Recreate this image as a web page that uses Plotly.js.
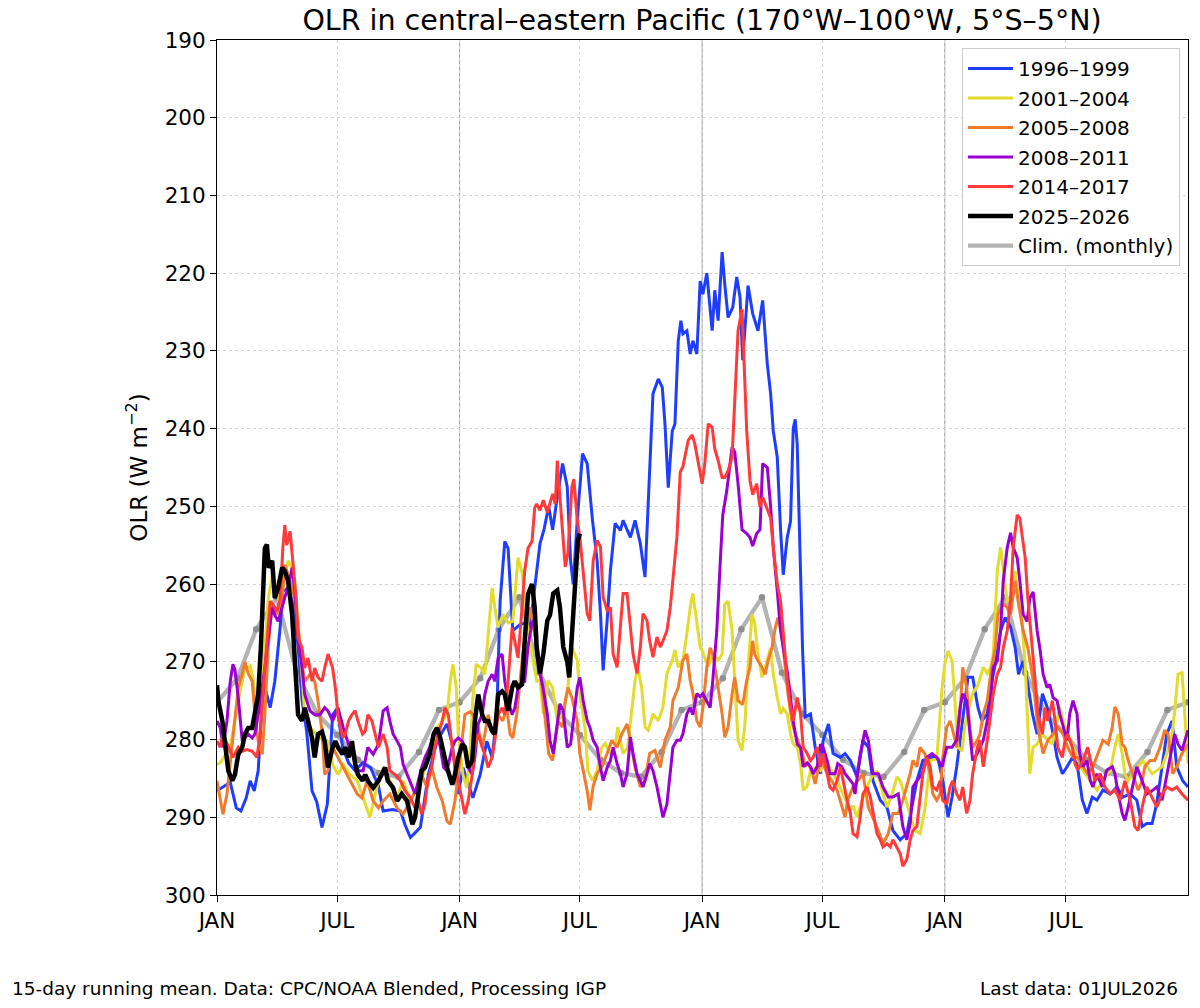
<!DOCTYPE html>
<html>
<head>
<meta charset="utf-8">
<script src="https://cdn.plot.ly/plotly-3.0.1.min.js"></script>
<style>
  html, body { margin: 0; padding: 0; background: #ffffff; }
  #chart { width: 1200px; height: 1008px; }
</style>
</head>
<body>
<div id="chart"></div>
<script>
// Each series: [day since 1 Jan of the first year, 15-day running-mean OLR in W m-2]
const olr1996_1999 = [[0,286.6],[11,286],[20,285.5],[29,288.8],[36,289.2],[44,287.5],[50,285.3],[56,286.6],[62,284],[68,275],[72,273.3],[80,275.9],[87,272.5],[95,265.6],[99,260.9],[107,260.5],[114,262.5],[122,268],[128,275],[135,279],[143,286.6],[150,288],[158,291.3],[166,288.3],[174,276.8],[181,276],[189,281],[198,283],[208,284],[219,283],[231,283.6],[243,286],[250,289.2],[264,289],[276,289.2],[283,291],[291,292.6],[298,292],[306,291.3],[318,284.5],[331,280.2],[346,278],[354,280.6],[363,287],[370,283.6],[385,287.5],[396,284.5],[406,280.2],[414,282.3],[421,276.8],[426,262.2],[433,254.5],[438,255.4],[445,266],[456,265.2],[463,265],[471,265.5],[486,254.8],[492,253],[499,250],[505,253],[512,248.8],[520,244.5],[527,247.5],[532,257],[536,260],[542,251.8],[550,243.2],[557,244.5],[565,251.8],[572,257],[577,263.8],[581,271.1],[587,264.7],[592,258.2],[599,252.2],[607,253.1],[611,251.8],[622,254],[629,251.8],[637,254.8],[644,259.1],[649,248.8],[656,235.5],[664,233.6],[670,234.7],[674,239.4],[679,247.6],[685,240.3],[689,239.4],[694,228.7],[698,226.1],[701,227.8],[707,227.4],[712,230.4],[716,228.7],[722,230.4],[727,221],[731,222.7],[737,220],[745,227.4],[749,222.2],[754,226.1],[760,217.3],[764,221.4],[769,225.7],[776,224.4],[782,220.5],[787,223.1],[791,231.2],[799,221.6],[806,225.2],[814,227.4],[821,223.5],[828,231.7],[833,235.5],[837,240.3],[843,243.7],[848,253.1],[852,258.8],[858,254],[863,251.9],[867,240],[870,238.8],[873,242],[878,258],[881,268.2],[885,277.1],[893,276.7],[900,281],[908,284.4],[912,280.1],[920,278],[927,281.8],[938,282.3],[945,281.8],[953,282.7],[963,284.8],[972,280.1],[980,281],[987,285.3],[998,287.8],[1008,288.7],[1017,291.7],[1028,292.9],[1038,292.1],[1046,288.2],[1053,285.3],[1062,282.7],[1076,282.3],[1085,282.5],[1092,285.3],[1100,290],[1106,287.4],[1113,283.5],[1122,277.6],[1130,272],[1137,272],[1145,275.9],[1151,277.6],[1159,276.7],[1164,273.3],[1171,270.3],[1179,266],[1186,264.3],[1194,265.5],[1201,268.2],[1206,271.6],[1213,269.9],[1219,272.4],[1227,276.7],[1234,279.3],[1242,274.1],[1249,275.8],[1257,278.8],[1264,282.3],[1272,284.4],[1279,283.5],[1287,282.3],[1294,283.1],[1302,287.8],[1309,289.5],[1317,287.4],[1324,287.8],[1333,286.5],[1344,287],[1354,286.1],[1363,287.4],[1374,287],[1384,287.8],[1392,291.2],[1399,290.8],[1407,290.8],[1414,288.2],[1422,283.1],[1429,279.3],[1437,277.6],[1444,283.5],[1453,285.3],[1461,286.1]];

const olr2001_2004 = [[0,283.2],[5,283],[20,281],[30,275.9],[38,272.5],[42,271],[50,270.5],[54,272],[60,276.8],[68,273],[77,262],[83,259],[90,260.5],[95,263],[102,259],[107,257],[113,258],[117,259.6],[122,264.8],[128,272.5],[132,276.8],[140,278.5],[150,279.3],[158,280],[166,280.2],[174,283.2],[182,284.5],[190,283.2],[200,284.5],[211,285.3],[218,287],[226,289.2],[230,290],[241,286],[250,283.6],[260,285.3],[271,287.5],[280,285.3],[291,287.9],[301,286.2],[310,284.5],[320,281.9],[331,278.5],[339,277.6],[346,276.8],[351,272.5],[355,270.3],[360,273.3],[363,279.3],[370,284.5],[376,286.2],[381,281],[385,274.6],[390,270.3],[396,270.7],[403,271.6],[408,266],[414,260.5],[418,263],[423,265.6],[430,263.9],[438,265],[445,264.8],[453,256.6],[459,258.5],[466,264.8],[474,269],[481,272.5],[486,272.4],[491,276.7],[498,272.4],[505,273.3],[512,277.6],[520,276.8],[527,274.1],[534,268.1],[542,269.8],[546,274.1],[554,278.8],[558,284],[565,285.3],[572,284],[579,281],[584,280.5],[592,281.8],[599,281],[603,278.4],[611,281.8],[618,281],[624,276.7],[629,272.4],[633,270.7],[639,273.3],[644,278.4],[649,278.8],[656,276.7],[664,277.6],[671,275.8],[677,271.5],[685,269.8],[689,268.5],[694,270.7],[701,269.8],[707,266.4],[712,263],[716,261.2],[722,264.7],[727,268.1],[730,268.6],[734,269.4],[739,270.6],[746,269],[754,269.8],[760,269],[764,262.6],[769,262.2],[775,266],[779,272.4],[784,280.1],[790,281.4],[794,278.4],[799,270.7],[805,263.9],[809,265],[814,269],[820,272],[825,270.7],[833,268.2],[837,271.6],[843,274.6],[848,276.7],[852,276],[858,276.7],[863,279.3],[867,280.6],[873,281],[878,283.1],[882,286.5],[888,286],[893,284],[900,283.6],[908,284],[915,282.3],[922,283.6],[933,285.3],[942,287],[953,289.1],[957,288.5],[963,290],[970,288],[978,286.1],[985,284.8],[993,284],[1001,286.6],[1008,288.7],[1016,287],[1023,284.8],[1028,285.3],[1035,287.4],[1043,289.5],[1050,291.7],[1058,292.1],[1065,289],[1073,282.7],[1083,282.5],[1091,273.3],[1095,270.3],[1100,268.6],[1106,269.9],[1110,274.6],[1115,281],[1121,281.5],[1125,278.4],[1130,276.5],[1137,274.1],[1145,273],[1153,270.7],[1159,271.5],[1164,270.7],[1168,269],[1174,258.3],[1179,255.3],[1183,258],[1189,262.2],[1194,262],[1201,258.3],[1206,261.8],[1211,264.7],[1216,270.3],[1220,278.8],[1223,284.4],[1228,281],[1234,280.6],[1242,279.3],[1249,280],[1257,280.6],[1264,277.6],[1268,275.8],[1273,277.5],[1280,279.3],[1288,281],[1295,282.3],[1303,284],[1314,285.3],[1324,286.5],[1333,285.3],[1344,284],[1351,281],[1356,279.3],[1362,281.8],[1366,284.4],[1371,285.3],[1378,284.4],[1386,283.5],[1393,282.7],[1399,283.5],[1407,284.4],[1414,284],[1422,283.5],[1429,281.8],[1437,279.3],[1441,276.3],[1446,271.6],[1452,271.4],[1456,276.7],[1461,283.1]];

const olr2005_2008 = [[0,285.3],[5,287.9],[9,289.6],[15,287],[20,283.2],[24,280.2],[32,273.3],[38,271.6],[42,270],[47,271.5],[53,272.5],[57,276.8],[62,280.2],[68,281.9],[72,276.8],[77,268.2],[83,262.6],[90,263.9],[98,261.8],[102,257.5],[110,259.6],[117,261.8],[122,266],[128,270.3],[132,272.5],[140,271.6],[147,272.5],[152,275],[158,278.9],[162,284.5],[167,284],[174,281],[182,282.3],[190,283.6],[200,285.3],[211,287],[218,287.5],[226,285.3],[235,287.9],[243,288.8],[250,287.9],[260,287],[271,288.8],[280,289.6],[291,287.9],[301,286.2],[308,284.5],[316,286.2],[323,283.6],[331,286.2],[339,287.9],[346,290.5],[351,290.9],[358,287.9],[363,284.5],[369,280.2],[373,276.8],[381,276.4],[385,276.8],[393,278.5],[399,281],[403,279.3],[408,276.8],[415,279.3],[423,276.8],[430,277.6],[436,275.9],[441,279.3],[445,279.8],[451,276.8],[456,272.5],[460,269],[466,265.2],[471,263],[475,265],[478,266.4],[486,270.7],[494,277.6],[499,281.8],[505,282.7],[509,280.1],[513,277.6],[520,278.4],[524,275],[528,273.3],[534,274.6],[542,277.6],[546,281.8],[551,284],[557,286.6],[561,289.1],[566,286],[572,284.4],[579,283.5],[587,281.8],[594,280.1],[602,281],[609,279.3],[617,278],[622,280.1],[629,283.6],[637,286.1],[644,285.3],[651,281.8],[659,281.4],[667,283.6],[674,280.1],[682,278.4],[686,275],[694,273.3],[701,269.8],[707,269],[712,272.4],[716,274],[722,277.6],[727,278.4],[731,276],[737,270.7],[742,268.2],[746,269],[754,273.3],[760,276.7],[764,279.7],[769,278.4],[775,274.1],[779,272],[784,275],[791,275.5],[797,272.4],[802,270.7],[806,267.3],[809,269],[814,269.9],[820,270.7],[825,271.6],[829,269.9],[835,268.2],[840,265.6],[844,264.3],[850,266.4],[855,270.7],[859,274.1],[865,277.6],[870,279.3],[874,280.1],[881,281.8],[885,283.5],[889,283],[895,284],[900,285.7],[904,284],[910,282.7],[918,284.4],[925,285.3],[933,286.5],[940,288.7],[945,290],[949,287.8],[957,286.1],[964,285.3],[972,284.4],[980,288.7],[987,290],[995,291.7],[1002,293.4],[1010,292.1],[1017,289.5],[1025,289.5],[1032,287.8],[1038,286.1],[1043,284.4],[1047,282.7],[1053,283.5],[1058,281],[1065,281.8],[1073,284.4],[1077,287],[1083,287.8],[1088,287],[1092,282.3],[1098,278.4],[1103,277.6],[1107,278.8],[1113,281],[1118,276.7],[1122,270.7],[1128,273.3],[1133,278.8],[1137,281],[1144,280.1],[1148,279.3],[1153,276.7],[1159,275],[1164,271.6],[1171,268.2],[1175,263.9],[1183,262.6],[1189,263],[1194,263.9],[1201,259.6],[1206,262.6],[1213,266],[1220,268.2],[1228,272.4],[1235,278.4],[1243,281.8],[1250,280.1],[1258,279.3],[1265,278.4],[1273,279.3],[1280,281],[1288,282.3],[1295,282.3],[1303,283.5],[1310,284.4],[1318,283.5],[1326,281.8],[1333,280.1],[1341,280.6],[1347,278.4],[1351,275.8],[1356,276.7],[1362,280.6],[1366,281],[1371,282.7],[1377,284.4],[1381,285.3],[1386,286.5],[1392,285.3],[1396,283.5],[1404,282.7],[1411,282.7],[1419,281],[1426,278.8],[1431,279.3],[1438,284.4],[1444,283.5],[1452,281.8],[1461,280.6]];

const olr2008_2011 = [[0,277.6],[5,278.5],[9,281],[15,277.6],[20,272.5],[24,270.3],[27,271],[32,274.6],[38,280.2],[42,279.8],[47,279.3],[53,279.8],[57,279.3],[62,276.8],[68,273.3],[72,270.8],[77,266.9],[83,263],[87,264],[92,264.8],[98,263],[102,261.7],[107,260.5],[113,257.9],[117,260.9],[122,266.9],[128,270.8],[132,274.2],[140,276.3],[147,276.8],[155,276.8],[162,275.9],[167,276.3],[174,277.6],[182,275.9],[190,278.5],[198,280.6],[205,282.3],[212,284],[220,284],[227,281],[235,281.9],[243,280.6],[250,276.3],[256,275.9],[260,277.6],[265,279.3],[271,280.2],[276,281],[280,283.2],[286,284.5],[294,286.2],[298,287],[303,285.3],[308,283.6],[313,282.3],[320,281],[326,279.3],[331,278.9],[336,281],[341,283.6],[346,284],[354,281],[358,280.2],[363,279.8],[369,280.2],[373,281],[378,283.6],[384,284.5],[388,282.3],[393,278],[399,276.8],[403,274.2],[408,272.5],[414,271.6],[418,272.5],[423,269.5],[429,269],[433,272.5],[438,275],[444,276.8],[448,276],[453,273.3],[459,272.5],[463,272.5],[468,268],[474,265],[478,264.5],[481,269],[486,271.5],[491,273.5],[497,276.7],[501,280.1],[506,281.8],[512,277.6],[516,275.4],[521,276.3],[527,281],[532,280.6],[536,277.6],[542,273.3],[546,272],[551,275],[557,277.6],[561,278.4],[566,280.1],[572,281],[577,283.6],[581,285.3],[587,283.6],[592,282.7],[596,281],[602,283.1],[607,284.4],[611,286.1],[617,284.4],[622,279.7],[626,281.8],[632,284.4],[637,285.3],[641,286.1],[647,284.4],[651,283.1],[656,284],[662,286.1],[667,288.3],[671,290],[677,288.3],[682,284.4],[686,281],[692,280.1],[697,280.1],[701,279.3],[707,276.7],[712,275.9],[716,276.8],[722,274.1],[727,274.5],[731,274.1],[737,275],[742,275.9],[746,272.4],[752,266],[757,257.5],[761,251.1],[767,248],[775,242.4],[779,243],[784,247.1],[790,253],[797,253.5],[802,254],[806,255.1],[812,253.5],[817,253],[821,244.5],[828,245],[833,250],[837,255.3],[843,260.9],[848,266],[852,268.2],[858,271.2],[863,274.6],[867,277.6],[873,280.6],[878,281],[882,283.5],[888,283],[893,283.5],[897,284.4],[903,283.5],[908,280.6],[912,281],[918,282.7],[922,284.4],[930,284.4],[934,283.1],[940,283.5],[945,284.4],[949,284.8],[957,285.7],[960,287],[967,282.3],[975,278.8],[980,280.1],[987,284.4],[995,284.4],[1002,286.1],[1010,287.4],[1017,287.4],[1025,287],[1032,291.2],[1038,292.9],[1043,290.8],[1047,286.1],[1053,285.3],[1061,284.4],[1068,282.3],[1076,281.8],[1083,282.3],[1091,283.5],[1098,281],[1106,281],[1113,280.1],[1118,275.9],[1122,274.1],[1128,275],[1133,279.3],[1137,282.7],[1144,281.8],[1148,281],[1153,280.1],[1159,277.6],[1164,275],[1168,270.7],[1174,269.9],[1179,266],[1183,259.6],[1189,255.3],[1194,253.4],[1198,255.3],[1204,256.6],[1208,259.6],[1213,263.9],[1219,264.8],[1223,261.8],[1228,261],[1234,266],[1238,268.2],[1243,271.6],[1249,273.3],[1253,272.9],[1258,274.6],[1264,275],[1268,276.7],[1273,278.4],[1279,280.1],[1283,276.7],[1288,275],[1294,276.7],[1298,281.8],[1303,283.5],[1309,282.7],[1314,285.3],[1318,286.1],[1324,284.4],[1332,286.1],[1339,283.9],[1347,283.5],[1351,284.4],[1356,287],[1362,289.5],[1366,290.4],[1371,288.7],[1377,286.1],[1384,283.5],[1392,285.3],[1399,287],[1407,286.6],[1414,286.1],[1422,287.8],[1429,284.4],[1437,281],[1441,279.3],[1446,280.6],[1452,281.4],[1456,280.1],[1461,278.8]];

const olr2014_2017 = [[0,280.2],[5,281],[9,279.3],[17,281],[24,282.3],[32,281],[38,281.5],[45,281.3],[53,281.5],[60,282.3],[65,279.3],[69,274.2],[75,266.9],[80,262.2],[84,262.6],[90,263.5],[95,262],[99,255.4],[102,252.4],[105,255],[110,253.2],[114,256.6],[119,261.8],[122,266.9],[128,268.2],[132,270.8],[137,269.5],[143,272.5],[147,270.8],[152,272],[158,272.5],[162,270.8],[167,269],[174,270.8],[178,273.3],[182,276.8],[189,279.8],[193,279.3],[198,277.6],[203,276.8],[208,276.3],[212,277.6],[219,279.3],[223,278.9],[227,276.8],[233,277.6],[238,279.3],[243,281],[250,279.3],[256,281],[260,284],[268,284.5],[276,285.3],[283,286.6],[291,287.5],[298,288.8],[303,287.9],[308,289.6],[313,288.3],[317,285.3],[323,283.6],[328,281],[333,279.3],[339,277.6],[343,275.9],[348,276.8],[354,281],[358,283.6],[363,285.3],[369,287.9],[373,289.6],[378,287.9],[384,284.5],[388,281],[393,279.3],[399,281],[403,281.9],[408,283.6],[414,282.3],[418,280.2],[423,276.8],[429,275.9],[433,276.8],[438,272.5],[444,265.6],[448,267.3],[453,269.5],[459,263],[463,258.3],[468,255.4],[474,254.5],[478,250.2],[481,249.7],[486,250.5],[491,249.2],[497,250.8],[505,248.4],[509,249.7],[512,244.1],[516,248.8],[520,253.1],[524,257.8],[528,256],[534,247.5],[537,246.5],[542,251.8],[546,254],[551,258.2],[557,263.8],[561,264.7],[566,257],[572,254.4],[577,255.2],[581,261.7],[587,263.4],[592,263],[596,269],[602,270.7],[607,265.5],[611,261.2],[617,261.2],[622,265.5],[626,269],[632,271.5],[637,268.1],[641,263.8],[647,264.7],[651,267.3],[656,269.4],[662,266.8],[667,268.1],[671,267.3],[677,266],[682,263],[686,259.5],[692,254],[697,245.6],[701,244.9],[709,241.5],[715,240.8],[719,242],[724,244.5],[730,247.1],[734,244.5],[739,239.4],[745,239.8],[749,242.6],[754,244.1],[760,246.3],[764,246.3],[769,245.4],[775,243.7],[779,236],[784,227.4],[790,224.6],[793,231.7],[797,240.3],[802,246.7],[806,248.5],[812,247.1],[817,250.1],[821,248.8],[828,250.5],[833,251.5],[837,255.3],[843,260],[848,262.2],[852,266],[858,272.4],[863,275.8],[867,277.6],[873,274.6],[878,276.7],[882,281],[888,281.8],[893,282.7],[897,282.3],[903,281],[908,283.5],[912,281.8],[918,284.4],[922,286.1],[927,286.5],[933,285.3],[938,283.5],[942,285.3],[948,287.8],[953,289.5],[957,292.1],[963,292.5],[967,290.4],[972,287],[978,286.1],[983,287.4],[987,289.5],[993,292.1],[998,292.9],[1002,293.8],[1008,293.4],[1013,293.8],[1017,292.9],[1023,293.8],[1028,294.7],[1032,296.3],[1038,295.4],[1043,292.9],[1047,291.7],[1053,291.2],[1058,287.8],[1062,284.4],[1068,282.3],[1073,283.5],[1077,286.1],[1083,286.5],[1088,285.3],[1092,287.8],[1098,288.3],[1103,286.1],[1107,285.3],[1113,287],[1118,287.8],[1122,286.1],[1128,289.5],[1133,287.8],[1137,284.4],[1144,281],[1148,280.1],[1153,283.5],[1159,280.1],[1164,276.7],[1168,274.1],[1174,271.6],[1179,270.7],[1183,268.2],[1189,266],[1194,262],[1198,255.3],[1204,251.1],[1208,251.5],[1211,253.5],[1216,256.6],[1220,261.8],[1227,268.2],[1231,272.4],[1235,276.7],[1242,279.3],[1246,275.9],[1250,277.6],[1257,275],[1261,277.6],[1265,281],[1272,282.3],[1276,280.1],[1280,279.3],[1287,281],[1291,283.1],[1295,283.9],[1303,282.7],[1310,281],[1317,283.5],[1321,285.3],[1329,284.4],[1336,286.1],[1344,287],[1351,286.5],[1359,287.8],[1366,285.3],[1374,287.8],[1381,291.2],[1386,291.7],[1392,288.7],[1399,286.1],[1407,287.4],[1414,288.7],[1422,287],[1429,286.1],[1437,286.5],[1444,286.1],[1452,287],[1461,287.8]];

const olr2025_2026 = [[0,273],[2,275],[8,277.6],[12,281],[17,284],[23,285.3],[27,284.5],[32,281.9],[38,281],[42,279.3],[47,278.5],[53,278.5],[57,276.8],[62,274.2],[66,268.2],[69,261.8],[72,255.4],[75,254.9],[78,257.9],[83,257],[87,261.8],[92,260.5],[98,257.9],[102,258.3],[107,259.6],[113,263.9],[117,270.3],[122,276.8],[128,277.6],[132,275.9],[137,277.6],[143,279.8],[147,282.3],[152,279.3],[158,279],[162,280.2],[167,283.6],[174,281],[178,280.2],[182,281],[189,281.9],[193,281],[198,282.3],[203,280.2],[208,283.2],[212,284.5],[219,285.3],[223,284.5],[227,285.3],[235,286.2],[243,285.3],[253,283.6],[257,285.3],[265,286.2],[271,287.9],[278,287],[286,287.9],[294,290.9],[298,290],[303,287],[308,284],[313,283.6],[320,281.9],[326,279.3],[331,278.5],[336,279.8],[341,281.9],[346,283.6],[354,285.8],[358,284.5],[363,282.3],[369,280.6],[373,281],[378,283.6],[384,282.7],[388,277.6],[393,274.2],[399,276.8],[403,277.6],[408,277.6],[414,278.9],[418,279.3],[423,274.2],[429,273.8],[433,274.2],[438,276.3],[444,273.3],[448,272.5],[453,273.3],[459,272.9],[463,267.3],[468,261.3],[474,260],[478,263],[481,268.1],[486,271.5],[491,269],[497,264.7],[501,264],[506,261.2],[512,260.8],[516,263],[521,268.1],[527,270],[530,272],[534,266.4],[539,258.2],[543,254.4],[546,253.5]];

// Monthly climatology, plotted at the first day of each month
const climDay = [0,31,59,90,120,151,181,212,243,273,304,334,
                 365,396,424,455,485,516,546,577,608,638,669,699,
                 730,761,789,820,850,881,911,942,973,1003,1034,1064,
                 1095,1126,1155,1186,1216,1247,1277,1308,1339,1369,1400,1430,1461];
const climOLR = [275.2,272.1,265.8,261.7,271.4,276.7,279.4,282.6,284.3,284.8,281.6,276.2,
                 275.2,272.1,265.8,261.7,271.4,276.7,279.4,282.6,284.3,284.8,281.6,276.2,
                 275.2,272.1,265.8,261.7,271.4,276.7,279.4,282.6,284.3,284.8,281.6,276.2,
                 275.2,272.1,265.8,261.7,271.4,276.7,279.4,282.6,284.3,284.8,281.6,276.2,
                 275.2];

const tickDays = [0,181,365,546,730,911,1095,1277];
const tickText = ['JAN','JUL','JAN','JUL','JAN','JUL','JAN','JUL'];
const yearStarts = [365,730,1095];

function series(pairs, name, color, width, rank) {
  return {
    x: pairs.map(p => p[0]),
    y: pairs.map(p => p[1]),
    type: 'scatter',
    mode: 'lines',
    name: name,
    legendgroup: name,
    legendrank: rank,
    line: { color: color, width: width },
    hoverinfo: 'skip'
  };
}

const traces = [
  {
    x: climDay, y: climOLR, type: 'scatter', mode: 'lines',
    name: 'Clim. (monthly)', legendgroup: 'clim', legendrank: 7,
    line: { color: '#b3b3b3', width: 4.3 }, hoverinfo: 'skip'
  },
  {
    x: climDay, y: climOLR, type: 'scatter', mode: 'markers',
    showlegend: false, legendgroup: 'clim',
    marker: { color: '#8f8f8f', size: 6.5 }, hoverinfo: 'skip'
  },
  series(olr1996_1999, '1996–1999', '#1f3dff', 3, 1),
  series(olr2001_2004, '2001–2004', '#e3dc2c', 3, 2),
  series(olr2005_2008, '2005–2008', '#f07b2c', 3, 3),
  series(olr2008_2011, '2008–2011', '#9b00d3', 3, 4),
  series(olr2014_2017, '2014–2017', '#ff3a3a', 3, 5),
  series(olr2025_2026, '2025–2026', '#000000', 4.5, 6)
];

const layout = {
  width: 1200,
  height: 1008,
  margin: { l: 217, r: 12, t: 40, b: 113 },
  paper_bgcolor: '#ffffff',
  plot_bgcolor: '#ffffff',
  font: { family: 'DejaVu Sans, sans-serif', color: '#000000' },
  title: {
    text: 'OLR in central–eastern Pacific (170°W–100°W, 5°S–5°N)',
    font: { size: 28.5, color: '#000000' },
    x: 0.585, xanchor: 'center',
    y: 0.980, yanchor: 'middle'
  },
  xaxis: {
    range: [0, 1461],
    tickmode: 'array',
    tickvals: tickDays,
    ticktext: tickText,
    ticks: 'outside', ticklen: 6, tickwidth: 1, tickcolor: '#000000',
    tickfont: { size: 21.5 },
    showline: true, linecolor: '#000000', linewidth: 1, mirror: true,
    showgrid: true, gridcolor: '#d6d6d6', gridwidth: 1, griddash: 'dot',
    zeroline: false
  },
  yaxis: {
    range: [300, 190],
    tick0: 190, dtick: 10,
    ticks: 'outside', ticklen: 6, tickwidth: 1, tickcolor: '#000000',
    tickfont: { size: 21.5 },
    showline: true, linecolor: '#000000', linewidth: 1, mirror: true,
    showgrid: true, gridcolor: '#d6d6d6', gridwidth: 1, griddash: 'dot',
    zeroline: false,
    title: { text: 'OLR (W m<sup>−2</sup>)', font: { size: 23 }, standoff: 10 }
  },
  legend: {
    x: 0.9918, xanchor: 'right',
    y: 0.9906, yanchor: 'top',
    bgcolor: 'rgba(255,255,255,0.9)',
    bordercolor: '#cccccc', borderwidth: 1,
    font: { size: 20 },
    itemwidth: 45,
    traceorder: 'grouped',
    tracegroupgap: 0.5
  },
  shapes: yearStarts.map(d => ({
    type: 'line', xref: 'x', yref: 'paper',
    x0: d, x1: d, y0: 0, y1: 1,
    line: { color: '#999999', width: 1 },
    layer: 'below'
  })),
  annotations: [
    {
      text: '15-day running mean. Data: CPC/NOAA Blended, Processing IGP',
      xref: 'paper', yref: 'paper', x: -0.2132, y: -0.1088,
      xanchor: 'left', yanchor: 'middle', showarrow: false,
      font: { size: 18.5 }
    },
    {
      text: 'Last data: 01JUL2026',
      xref: 'paper', yref: 'paper', x: 0.9918, y: -0.1088,
      xanchor: 'right', yanchor: 'middle', showarrow: false,
      font: { size: 18.5 }
    }
  ],
  showlegend: true
};

Plotly.newPlot('chart', traces, layout, { staticPlot: true, displayModeBar: false });
</script>
</body>
</html>
